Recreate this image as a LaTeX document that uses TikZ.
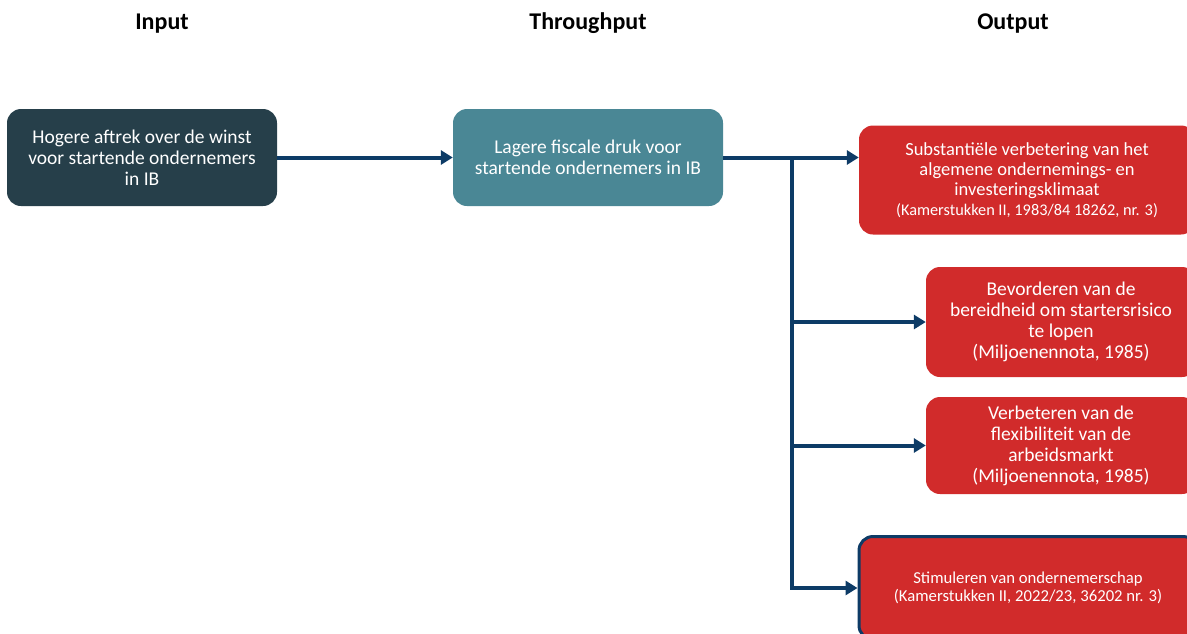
\documentclass[tikz,border=0pt]{standalone}
\usepackage{fontspec}
\setmainfont{Carlito}
\usetikzlibrary{arrows.meta}

\definecolor{inputcol}{HTML}{263F4A}
\definecolor{throughcol}{HTML}{4A8795}
\definecolor{outcol}{HTML}{D12B2B}
\definecolor{linkcol}{HTML}{0D3B66}

\tikzset{
  box/.style={rounded corners=14pt, align=center, text=white, inner sep=2pt,
    font=\fontsize{19.5}{21}\selectfont},
  head/.style={font=\fontsize{24}{26}\selectfont\bfseries},
  link/.style={draw=linkcol, line width=4pt,
    -{Triangle[length=12pt,width=14pt]}}
}

\begin{document}
\begin{tikzpicture}[x=1pt,y=-1pt]
  \useasboundingbox (0,0) rectangle (1187,633);
  % column headers
  \node[head] (hin) at (162,23.5) {Input};
  \node[head] (hthr) at (588,23.5) {Throughput};
  \node[head] (hout) at (1013,23.5) {Output};

  \node[box, fill=inputcol, minimum width=270pt, minimum height=97pt]
    (in) at (142,157.5) {Hogere aftrek over de winst\\voor startende ondernemers\\in IB};
  \node[box, fill=throughcol, minimum width=270pt, minimum height=97pt]
    (thr) at (588,157.5) {Lagere fiscale druk voor\\startende ondernemers in IB};

  \node[box, fill=outcol, minimum width=336pt, minimum height=109pt,
    font=\fontsize{18.5}{20}\selectfont]
    (o1) at (1027,180) {Substantiële verbetering van het\\algemene ondernemings- en\\investeringsklimaat\\{\fontsize{16.3}{20}\selectfont(Kamerstukken II, 1983/84 18262, nr. 3)}};
  \node[box, fill=outcol, minimum width=270pt, minimum height=110pt]
    (o2) at (1061,322) {Bevorderen van de\\bereidheid om startersrisico\\te lopen\\(Miljoenennota, 1985)};
  \node[box, fill=outcol, minimum width=270pt, minimum height=97pt]
    (o3) at (1061,445.5) {Verbeteren van de\\flexibiliteit van de\\arbeidsmarkt\\(Miljoenennota, 1985)};
  \node[box, fill=outcol, draw=linkcol, line width=3pt, minimum width=338pt, minimum height=103pt,
    font=\fontsize{16.7}{18}\selectfont]
    (o4) at (1028,588) {Stimuleren van ondernemerschap\\(Kamerstukken II, 2022/23, 36202 nr. 3)};

  \coordinate (split) at (792,157.5);
  \path[link] (in.east) -- (thr.west);
  \path[link] (thr.east) -- (o1.west |- thr.east);
  \path[link, line join=miter] (split) |- (o4.west);
  \foreach \o in {o2, o3}
  {
    \path[link] (split |- \o.west) -- (\o.west);
  }
\end{tikzpicture}
\end{document}
